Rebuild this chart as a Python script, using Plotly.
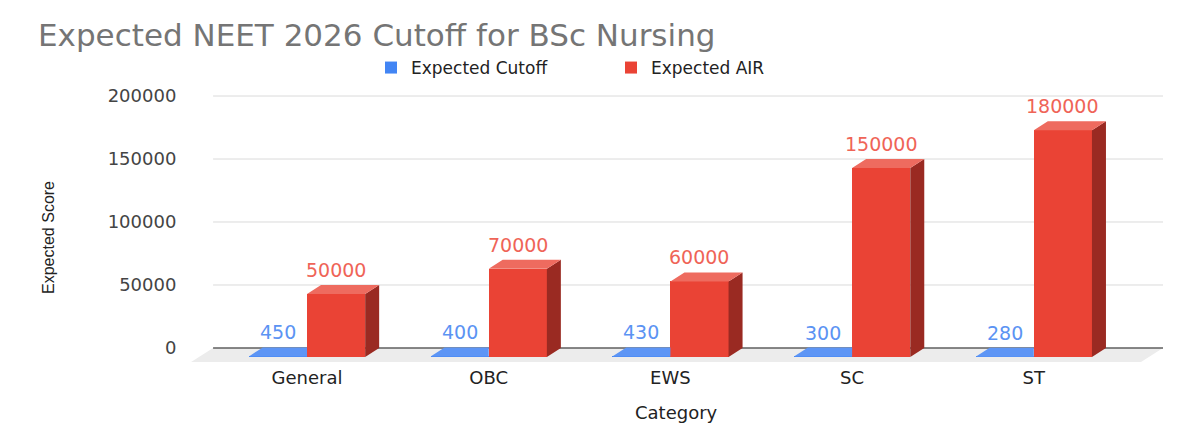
import plotly.graph_objects as go

# ---------------- data ----------------
categories = ["General", "OBC", "EWS", "SC", "ST"]
expected_cutoff = [450, 400, 430, 300, 280]
expected_air = [50000, 70000, 60000, 150000, 180000]
series_names = ["Expected Cutoff", "Expected AIR"]
y_tick_values = [0, 50000, 100000, 150000, 200000]

# ---------------- style / geometry ----------------
BLUE = "#4285F4"
BLUE_TOP = "#5d95f5"
BLUE_LABEL = "#5b93f3"
RED = "#EA4335"
RED_TOP = "#ee6b5f"
RED_SIDE = "#9a2a22"
RED_LABEL = "#ef6457"
FLOOR = "#ececec"
GRID = "#dadada"
ZERO = "#5f5f5f"

FONT = "DejaVu Sans"
BAR_W = 0.32                 # bar width in category units
GROUP_PX = 181.7             # px per category
Y_PX_PER_UNIT = 63 / 50000   # px per value unit
DX = 14 / GROUP_PX           # 3D depth offset (x, data units)
DY = 9 / Y_PX_PER_UNIT       # 3D depth offset (y, data units)
FLOOR_DX = 22 / GROUP_PX
FLOOR_DY = 14 / Y_PX_PER_UNIT
X_RANGE = [-0.644, 4.711]
Y_RANGE = [-13500, 204760]
BACK_LEFT = -0.517
BACK_RIGHT = 4.711

idx = list(range(len(categories)))
blue_x = [i - BAR_W / 2 for i in idx]
red_x = [i + BAR_W / 2 for i in idx]

fig = go.Figure()

# front faces as real bars (base pushed forward by the depth offset)
fig.add_trace(go.Bar(x=blue_x, y=expected_cutoff, base=[-DY] * len(idx), width=BAR_W,
                     name=series_names[0], marker=dict(color=BLUE, line=dict(width=0)),
                     hovertext=categories))
fig.add_trace(go.Bar(x=red_x, y=expected_air, base=[-DY] * len(idx), width=BAR_W,
                     name=series_names[1], marker=dict(color=RED, line=dict(width=0)),
                     hovertext=categories))


def poly_trace(polys, color):
    xs, ys = [], []
    for p in polys:
        for (px, py) in p:
            xs.append(px)
            ys.append(py)
        xs.append(p[0][0]); ys.append(p[0][1])
        xs.append(None); ys.append(None)
    return go.Scatter(x=xs, y=ys, mode="lines", fill="toself", fillcolor=color,
                      line=dict(width=0, color=color), showlegend=False, hoverinfo="skip")


# blue top faces (right part hidden behind the red bar)
blue_tops = []
for cx, v in zip(blue_x, expected_cutoff):
    x0, x1 = cx - BAR_W / 2, cx + BAR_W / 2
    blue_tops.append([(x0, v - DY), (x1, v - DY), (x1, v), (x0 + DX, v)])
fig.add_trace(poly_trace(blue_tops, BLUE_TOP))

# red top and side faces
red_tops, red_sides = [], []
for cx, v in zip(red_x, expected_air):
    x0, x1 = cx - BAR_W / 2, cx + BAR_W / 2
    red_tops.append([(x0, v - DY), (x1, v - DY), (x1 + DX, v), (x0 + DX, v)])
    red_sides.append([(x1, -DY), (x1, v - DY), (x1 + DX, v), (x1 + DX, 0)])
fig.add_trace(poly_trace(red_sides, RED_SIDE))
fig.add_trace(poly_trace(red_tops, RED_TOP))

# data labels
annotations = []
for cx, v in zip(blue_x, expected_cutoff):
    annotations.append(dict(x=cx, y=v, xref="x", yref="y", text=str(v), showarrow=False,
                            yanchor="bottom", yshift=2,
                            font=dict(family=FONT, size=19, color=BLUE_LABEL)))
for cx, v in zip(red_x, expected_air):
    annotations.append(dict(x=cx, y=v, xref="x", yref="y", text=str(v), showarrow=False,
                            yanchor="bottom", yshift=2,
                            font=dict(family=FONT, size=19, color=RED_LABEL)))

# axis titles
annotations.append(dict(text="Category", xref="paper", yref="paper", x=0.5, y=-0.171,
                        xanchor="center", yanchor="middle", showarrow=False,
                        font=dict(family=FONT, size=18, color="#222222")))
annotations.append(dict(text="Expected Score", xref="paper", yref="paper", x=0, xshift=-141,
                        y=0.462, xanchor="center", yanchor="middle", textangle=-90,
                        showarrow=False,
                        font=dict(family="Liberation Sans", size=16, color="#222222")))

# floor, gridlines, zero line
shapes = [dict(type="path", xref="x", yref="y", layer="below",
               path=(f"M {BACK_LEFT},0 L {BACK_RIGHT},0 "
                     f"L {BACK_RIGHT - FLOOR_DX},{-FLOOR_DY} L {BACK_LEFT - FLOOR_DX},{-FLOOR_DY} Z"),
               fillcolor=FLOOR, line=dict(width=0))]
for tv in y_tick_values:
    shapes.append(dict(type="line", xref="x", yref="y", layer="below",
                       x0=BACK_LEFT, x1=BACK_RIGHT, y0=tv, y1=tv,
                       line=dict(color=ZERO if tv == 0 else GRID,
                                 width=1.6 if tv == 0 else 1)))

fig.update_layout(
    width=1200, height=442,
    margin=dict(l=190, r=37, t=90, b=77, autoexpand=False),
    paper_bgcolor="white", plot_bgcolor="white",
    barmode="overlay", bargap=0,
    title=dict(text="Expected NEET 2026 Cutoff for BSc Nursing", xref="container", yref="container",
               x=38 / 1200, xanchor="left", y=1 - 35 / 442, yanchor="middle",
               font=dict(family=FONT, size=31, color="#757575")),
    legend=dict(orientation="h", xref="container", yref="container",
                x=371 / 1200, xanchor="left", y=1 - 68 / 442, yanchor="middle",
                font=dict(family=FONT, size=17, color="#222222"),
                entrywidth=195, entrywidthmode="pixels", traceorder="normal"),
    xaxis=dict(range=X_RANGE, tickmode="array", tickvals=idx, ticktext=categories,
               showgrid=False, zeroline=False, showline=False, ticks="",
               tickfont=dict(family=FONT, size=18, color="#222222")),
    yaxis=dict(range=Y_RANGE, tickmode="array", tickvals=y_tick_values,
               ticktext=[str(v) for v in y_tick_values],
               showgrid=False, zeroline=False, showline=False,
               ticks="outside", ticklen=9, tickcolor="rgba(0,0,0,0)",
               tickfont=dict(family=FONT, size=18, color="#444444")),
    shapes=shapes,
    annotations=annotations,
    showlegend=True,
)

fig.write_html("out.html")
